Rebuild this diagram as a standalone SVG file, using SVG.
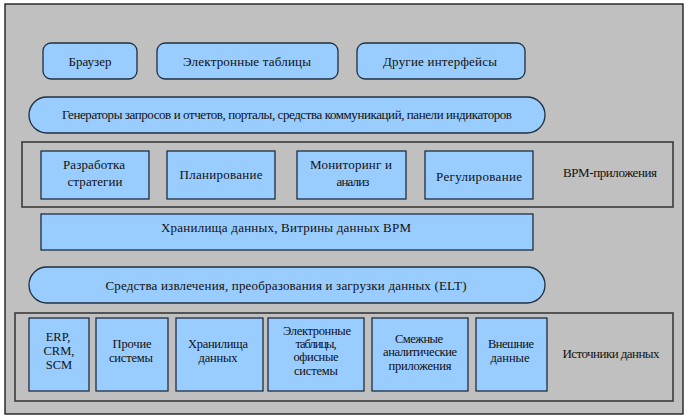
<svg xmlns="http://www.w3.org/2000/svg" width="693" height="419" viewBox="0 0 693 419">
<style>
.b{fill:#99ccff;stroke:#1f2f3f;stroke-width:1.3}
.f{fill:none;stroke:#3a3a3a;stroke-width:1.6}
text{font-family:"Liberation Serif","Times New Roman",serif;font-size:13px;fill:#111;text-anchor:middle;dominant-baseline:central}
.s{font-size:12.5px}
</style>
<rect x="0" y="0" width="693" height="419" fill="#ffffff"/>
<rect x="5" y="4" width="678" height="410" fill="#c0c0c0" stroke="#111" stroke-width="1.3"/>
<g id="browser"><rect class="b" x="43" y="43" width="94" height="36" rx="8"/><text x="90" y="61" textLength="43">Браузер</text></g>
<g id="spreadsheets"><rect class="b" x="157" y="43" width="181" height="36" rx="8"/><text x="247" y="61" textLength="128">Электронные таблицы</text></g>
<g id="other-ui"><rect class="b" x="357" y="43" width="168" height="36" rx="8"/><text x="440" y="61" textLength="114">Другие интерфейсы</text></g>
<g id="generators"><rect class="b" x="29" y="97" width="516" height="36" rx="18"/><text x="287" y="114" textLength="450">Генераторы запросов и отчетов, порталы, средства коммуникаций, панели индикаторов</text></g>
<g id="bpm-apps"><rect class="f" x="22" y="142" width="651" height="65"/><text x="610" y="172" textLength="94">BPM-приложения</text></g>
<g id="strategy"><rect class="b" x="41" y="151" width="108" height="48"/><text x="94" y="164" textLength="62">Разработка</text><text x="95" y="181" textLength="55">стратегии</text></g>
<g id="planning"><rect class="b" x="167" y="151" width="108" height="48"/><text x="221" y="174" textLength="83">Планирование</text></g>
<g id="monitoring"><rect class="b" x="297" y="151" width="109" height="48"/><text x="351" y="164" textLength="82">Мониторинг и</text><text x="353" y="181" textLength="33">анализ</text></g>
<g id="regulation"><rect class="b" x="425" y="151" width="108" height="48"/><text x="479" y="176" textLength="86">Регулирование</text></g>
<g id="warehouse"><rect class="b" x="41" y="214" width="492" height="36"/><text x="286" y="227" textLength="250">Хранилища данных, Витрины данных BPM</text></g>
<g id="elt"><rect class="b" x="29" y="267" width="516" height="36" rx="18"/><text x="286" y="285" textLength="361">Средства извлечения, преобразования и загрузки данных (ELT)</text></g>
<g id="sources"><rect class="f" x="15" y="313" width="658" height="88"/><text x="611" y="353" textLength="97">Источники данных</text></g>
<g id="erp"><rect class="b" x="29" y="318" width="60" height="73"/><text class="s" x="58" y="337">ERP,</text><text class="s" x="59" y="351">CRM,</text><text class="s" x="59" y="365">SCM</text></g>
<g id="other-sys"><rect class="b" x="96" y="318" width="72" height="73"/><text class="s" x="132" y="344" textLength="39">Прочие</text><text class="s" x="131" y="358" textLength="44">системы</text></g>
<g id="dwh"><rect class="b" x="176" y="318" width="87" height="73"/><text class="s" x="218" y="344" textLength="60">Хранилища</text><text class="s" x="218" y="358" textLength="39">данных</text></g>
<g id="office"><rect class="b" x="268" y="318" width="96" height="73"/><text class="s" x="317" y="331" textLength="68">Электронные</text><text class="s" x="316" y="344" textLength="41">таблицы,</text><text class="s" x="316" y="357" textLength="45">офисные</text><text class="s" x="316" y="371" textLength="44">системы</text></g>
<g id="analytics"><rect class="b" x="372" y="318" width="96" height="73"/><text class="s" x="419" y="339" textLength="48">Смежные</text><text class="s" x="420" y="352" textLength="74">аналитические</text><text class="s" x="420" y="366" textLength="63">приложения</text></g>
<g id="external"><rect class="b" x="476" y="318" width="71" height="73"/><text class="s" x="511" y="344" textLength="46">Внешние</text><text class="s" x="510" y="358" textLength="39">данные</text></g>
<g id="connectors"></g>
</svg>
